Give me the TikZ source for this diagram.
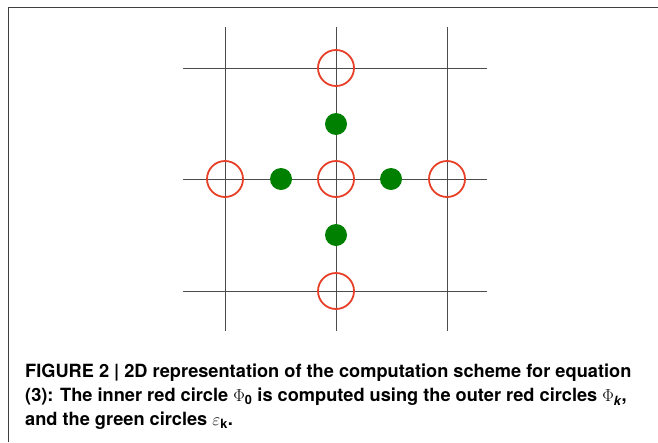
\documentclass[tikz,border=0pt]{standalone}
\usepackage{amsmath}
\usepackage{fontspec}
\setmainfont{TeX Gyre Heros}
\definecolor{phired}{RGB}{232,64,40}
\definecolor{epsgreen}{RGB}{0,128,0}
\begin{document}
\begin{tikzpicture}[x=1pt, y=-1pt,
    grid_line/.style={draw=black!70, line width=0.9pt},
    phi_node/.style={circle, draw=phired, line width=1.8pt, minimum size=36pt, inner sep=0pt},
    eps_node/.style={circle, fill=epsgreen, minimum size=22pt, inner sep=0pt},
    cap_line/.style={anchor=base west, inner sep=0pt, font=\bfseries\fontsize{18.2}{24}\selectfont}
]
\useasboundingbox (0,0) rectangle (658,442);
% Cadre
\draw[black!75, line width=1.3pt] (8.5,442) -- (8.5,7.5) -- (658,7.5);

% Grille
\foreach \x in {225,336,447}
    \draw[grid_line] (\x,27) -- (\x,331);
\foreach \y in {68,179,291}
    \draw[grid_line] (183,\y) -- (487,\y);

% Cercles rouges
\node[phi_node] (phi0) at (336,179) {};
\node[phi_node] (phiN) at (336,68) {};
\node[phi_node] (phiW) at (225,179) {};
\node[phi_node] (phiE) at (447,179) {};
\node[phi_node] (phiS) at (336,291) {};

% Cercles verts
\node[eps_node] (epsN) at (336,124) {};
\node[eps_node] (epsW) at (281,179) {};
\node[eps_node] (epsE) at (391,179) {};
\node[eps_node] (epsS) at (336,235) {};

% Legende
\node[cap_line] (cap1) at (25,377.7)
    {FIGURE 2 | 2D representation of the computation scheme for equation};
\node[cap_line] (cap2) at (25,401.7)
    {(3): The inner red circle $\Phi_{\textbf{0}}$ is computed using the outer red circles $\Phi_{\textbf{\itshape k}}$,};
\node[cap_line] (cap3) at (25,425)
    {and the green circles $\varepsilon_{\textbf{k}}$.};
\end{tikzpicture}
\end{document}
